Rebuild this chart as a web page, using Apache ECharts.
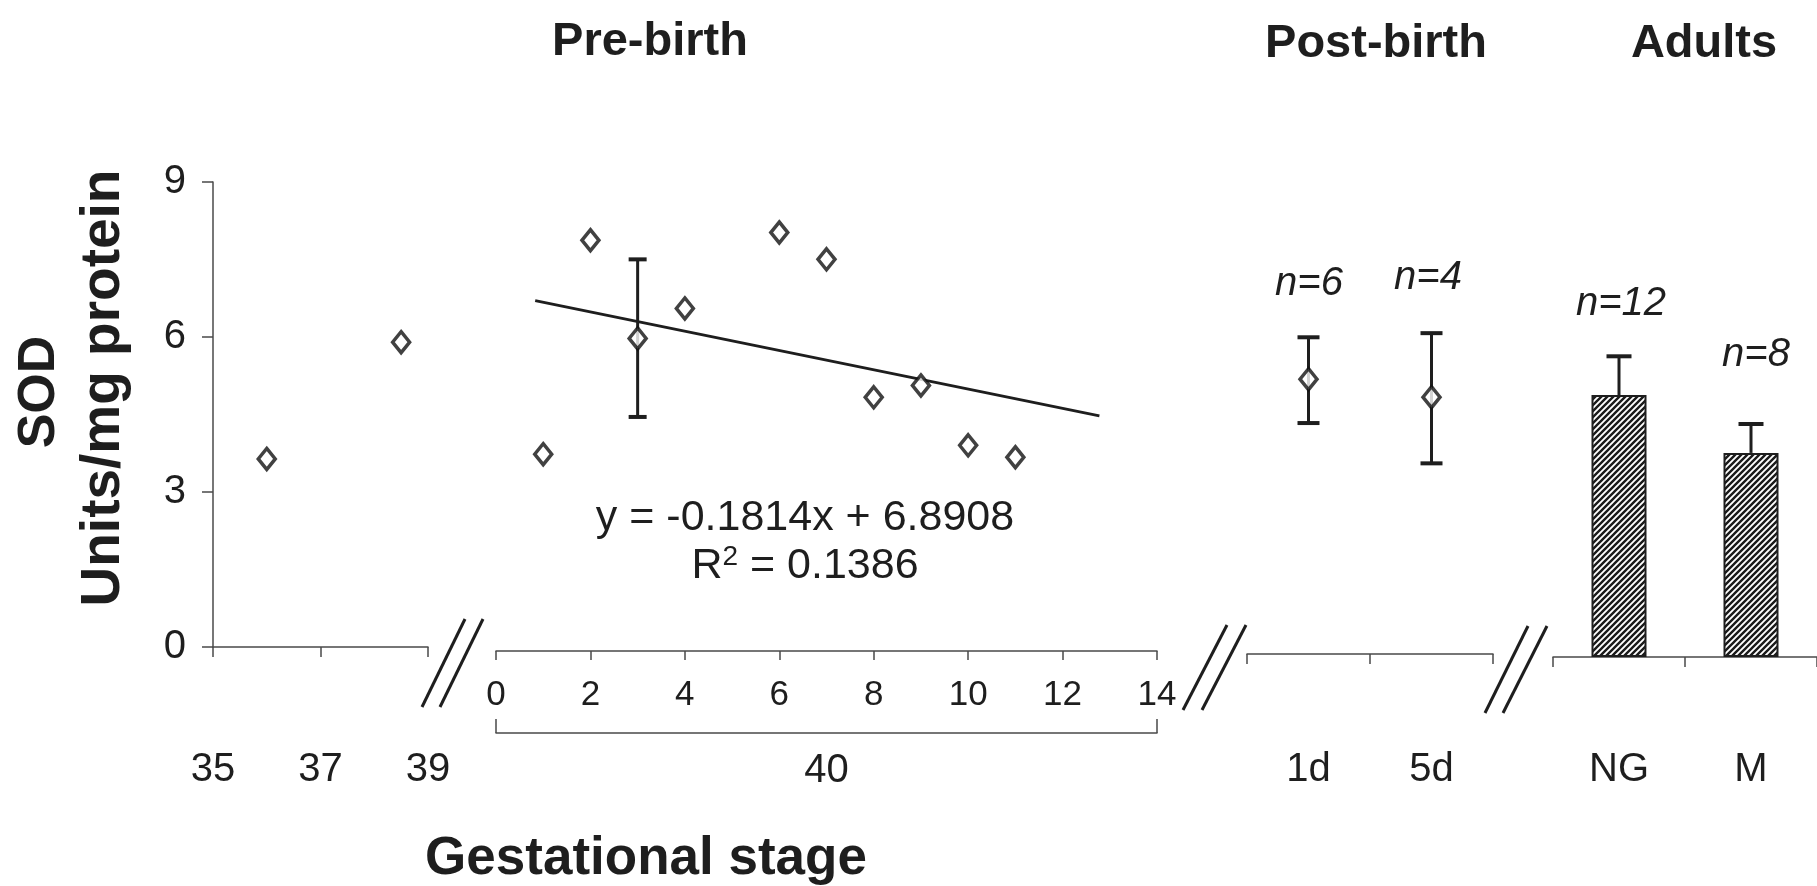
<!DOCTYPE html>
<html><head><meta charset="utf-8">
<script src="https://cdn.jsdelivr.net/npm/echarts@6/dist/echarts.min.js"></script>
<style>html,body{margin:0;padding:0;background:#fff}#c{width:1817px;height:886px}</style>
</head><body><div id="c"></div>
<script>
// ---- data ----
const pre35Ticks = [35, 37, 39];
const pre35X = [36, 38.5];
const pre35Y = [3.64, 5.90];
const pre40X = [1, 2, 3, 4, 6, 7, 8, 9, 10, 11];
const pre40Y = [3.81, 7.95, 6.05, 6.63, 8.10, 7.58, 4.91, 5.14, 3.98, 3.75];
const pre40ErrX = [3];
const pre40ErrLo = [4.53];
const pre40ErrHi = [7.58];
const trendX = [0.83, 12.78];
const trendY = [6.78, 4.55];
const dayGroup = ['40'];
const postCats = ['1d', '5d'];
const postMean = [5.32, 4.97];
const postLo = [4.47, 3.69];
const postHi = [6.13, 6.21];
const postN = ['n=6', 'n=4'];
const adultCats = ['NG', 'M'];
const adultMean = [5.07, 3.95];
const adultHi = [5.82, 4.51];
const adultN = ['n=12', 'n=8'];
const eqText = 'y = -0.1814x + 6.8908';
const r2Value = '0.1386';
const panelTitles = ['Pre-birth', 'Post-birth', 'Adults'];

// ---- styles ----
const F = '"Liberation Sans", Arial, Helvetica, sans-serif';
const INK = '#1e1e1e';
const AX = {color: '#4a4a4a', width: 1.5};

function hatch() {
  const s = 6;
  const c = document.createElement('canvas');
  c.width = s; c.height = s;
  const g = c.getContext('2d');
  g.fillStyle = '#fff'; g.fillRect(0, 0, s, s);
  g.strokeStyle = '#1a1a1a'; g.lineWidth = 2.4;
  g.beginPath();
  g.moveTo(-1, s + 1); g.lineTo(s + 1, -1);
  g.moveTo(-1, 1); g.lineTo(1, -1);
  g.moveTo(s - 1, s + 1); g.lineTo(s + 1, s - 1);
  g.stroke();
  return c;
}

function errRender(cap, upperOnly) {
  return function (params, api) {
    const x = api.value(0), lo = api.value(1), hi = api.value(2);
    const pLo = api.coord([x, lo]);
    const pHi = api.coord([x, hi]);
    const ch = [
      {type: 'line', shape: {x1: pLo[0], y1: pLo[1], x2: pHi[0], y2: pHi[1]}, style: {stroke: INK, lineWidth: 3}},
      {type: 'line', shape: {x1: pHi[0] - cap / 2, y1: pHi[1], x2: pHi[0] + cap / 2, y2: pHi[1]}, style: {stroke: INK, lineWidth: 4}}
    ];
    if (!upperOnly) {
      ch.push({type: 'line', shape: {x1: pLo[0] - cap / 2, y1: pLo[1], x2: pLo[0] + cap / 2, y2: pLo[1]}, style: {stroke: INK, lineWidth: 4}});
    }
    return {type: 'group', children: ch};
  };
}

const diamond = {
  type: 'scatter', symbol: 'diamond', symbolSize: [17, 21], z: 6,
  itemStyle: {color: '#fff', borderColor: '#111', borderWidth: 3.5}
};

function txt(text, x, y, font, rot) {
  return {type: 'text', x: x, y: y, rotation: rot || 0, z: 10,
    style: {text: text, font: font, fill: INK, align: 'center', verticalAlign: 'middle',
      textAlign: 'center', textVerticalAlign: 'middle'}};
}
function seg(x1, y1, x2, y2) {
  return {type: 'line', shape: {x1, y1, x2, y2}, style: {stroke: INK, lineWidth: 3}, z: 10};
}
const NFONT = 'italic 40px ' + F;

const chart = echarts.init(document.getElementById('c'));
chart.setOption({
  backgroundColor: '#fff',
  animation: false,
  textStyle: {fontFamily: F},
  title: [
    {text: panelTitles[0], left: 645, top: 14, textAlign: 'center', textStyle: {fontSize: 47, fontWeight: 'bold', color: INK, fontFamily: F}},
    {text: panelTitles[1], left: 1371, top: 16, textAlign: 'center', textStyle: {fontSize: 47, fontWeight: 'bold', color: INK, fontFamily: F}},
    {text: panelTitles[2], left: 1699, top: 16, textAlign: 'center', textStyle: {fontSize: 47, fontWeight: 'bold', color: INK, fontFamily: F}}
  ],
  grid: [
    {left: 213, top: 182, width: 215, height: 465},
    {left: 496, top: 186, width: 661, height: 465},
    {left: 1247, top: 189, width: 246, height: 465},
    {left: 1553, top: 192, width: 268, height: 465}
  ],
  xAxis: [
    {gridIndex: 0, type: 'value', min: 35, max: 39, splitLine: {show: false},
      axisLine: {show: true, onZero: false, lineStyle: AX},
      axisTick: {show: true, length: 10, customValues: pre35Ticks, lineStyle: AX},
      axisLabel: {customValues: pre35Ticks, fontSize: 40, color: INK, margin: 103, fontFamily: F, showMinLabel: true, showMaxLabel: true}},
    {gridIndex: 1, type: 'value', min: 0, max: 14, interval: 2, splitLine: {show: false},
      axisLine: {show: true, onZero: false, lineStyle: AX},
      axisTick: {show: true, length: 9, lineStyle: AX},
      axisLabel: {fontSize: 35, color: INK, margin: 27, fontFamily: F, showMinLabel: true, showMaxLabel: true}},
    {gridIndex: 1, type: 'category', data: dayGroup, position: 'bottom', offset: 82, boundaryGap: true,
      axisLine: {show: true, onZero: false, lineStyle: AX},
      axisTick: {show: true, inside: true, length: 14, lineStyle: AX},
      axisLabel: {fontSize: 40, color: INK, margin: 18, fontFamily: F}},
    {gridIndex: 2, type: 'category', data: postCats, boundaryGap: true,
      axisLine: {show: true, onZero: false, lineStyle: AX},
      axisTick: {show: true, length: 10, lineStyle: AX},
      axisLabel: {fontSize: 40, color: INK, margin: 96, fontFamily: F, interval: 0}},
    {gridIndex: 3, type: 'category', data: adultCats, boundaryGap: true,
      axisLine: {show: true, onZero: false, lineStyle: AX},
      axisTick: {show: true, length: 10, lineStyle: AX},
      axisLabel: {fontSize: 40, color: INK, margin: 93, fontFamily: F, interval: 0}}
  ],
  yAxis: [
    {gridIndex: 0, type: 'value', min: 0, max: 9, interval: 3, splitLine: {show: false},
      axisLine: {show: true, lineStyle: AX},
      axisTick: {show: true, length: 11, lineStyle: AX},
      axisLabel: {fontSize: 40, color: INK, margin: 27, fontFamily: F}},
    {gridIndex: 1, type: 'value', min: 0, max: 9, show: false},
    {gridIndex: 2, type: 'value', min: 0, max: 9, show: false},
    {gridIndex: 3, type: 'value', min: 0, max: 9, show: false}
  ],
  series: [
    Object.assign({}, diamond, {name: 'Pre-birth 35-39', xAxisIndex: 0, yAxisIndex: 0,
      data: pre35X.map((x, i) => [x, pre35Y[i]])}),
    {name: 'Trend', type: 'line', xAxisIndex: 1, yAxisIndex: 1, showSymbol: false, symbol: 'none', z: 3,
      lineStyle: {color: INK, width: 2.8}, data: trendX.map((x, i) => [x, trendY[i]])},
    {name: 'Pre-birth error', type: 'custom', xAxisIndex: 1, yAxisIndex: 1, z: 4,
      renderItem: errRender(18, false),
      data: pre40ErrX.map((x, i) => [x, pre40ErrLo[i], pre40ErrHi[i]])},
    Object.assign({}, diamond, {name: 'Pre-birth 40', xAxisIndex: 1, yAxisIndex: 1,
      data: pre40X.map((x, i) => [x, pre40Y[i]])}),
    {name: 'Post-birth error', type: 'custom', xAxisIndex: 3, yAxisIndex: 2, z: 4,
      renderItem: errRender(22, false),
      data: postCats.map((c, i) => [i, postLo[i], postHi[i]])},
    Object.assign({}, diamond, {name: 'Post-birth', xAxisIndex: 3, yAxisIndex: 2, data: postMean}),
    {name: 'Adults', type: 'bar', xAxisIndex: 4, yAxisIndex: 3, barWidth: 55, z: 2,
      itemStyle: {color: {image: hatch(), repeat: 'repeat'}, borderColor: INK, borderWidth: 2},
      data: adultMean},
    {name: 'Adults error', type: 'custom', xAxisIndex: 4, yAxisIndex: 3, z: 4,
      renderItem: errRender(25, true),
      data: adultCats.map((c, i) => [i, adultMean[i], adultHi[i]])}
  ],
  graphic: [
    txt('SOD', 40, 392, 'bold 52px ' + F, Math.PI / 2),
    txt('Units/mg protein', 104, 388, 'bold 55px ' + F, Math.PI / 2),
    txt('Gestational stage', 646, 859, 'bold 53px ' + F),
    txt(eqText, 805, 518, '43px ' + F),
    {type: 'text', x: 805, y: 566, z: 10,
      style: {text: '{a|R}{s|2}{a| = ' + r2Value + '}', fill: INK, align: 'center', verticalAlign: 'middle',
        textAlign: 'center', textVerticalAlign: 'middle',
        rich: {a: {fontSize: 43, fontFamily: F, color: INK},
               s: {fontSize: 28, fontFamily: F, color: INK, padding: [0, 0, 18, 0]}}}},
    txt(postN[0], 1309, 284, NFONT),
    txt(postN[1], 1428, 278, NFONT),
    txt(adultN[0], 1621, 304, NFONT),
    txt(adultN[1], 1756, 355, NFONT),
    seg(422, 707, 465, 619), seg(440, 707, 483, 619),
    seg(1183, 710, 1227, 625), seg(1202, 710, 1246, 625),
    seg(1485, 713, 1528, 626), seg(1503, 713, 1547, 626)
  ]
});
</script></body></html>
